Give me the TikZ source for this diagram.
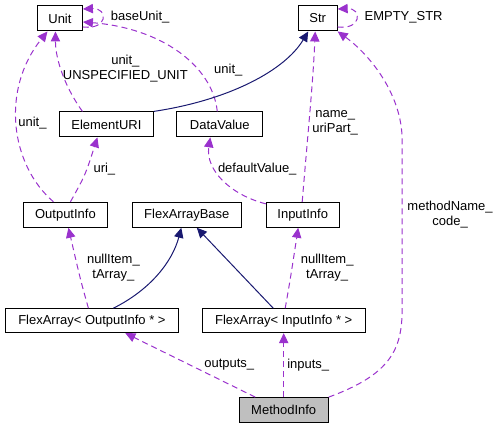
\documentclass[tikz,border=0pt]{standalone}
\usepackage{fontspec}
\setmainfont{Liberation Sans}
\usetikzlibrary{arrows.meta,calc}

\definecolor{usepurple}{RGB}{154,50,205}
\definecolor{basenavy}{RGB}{25,25,112}
\tikzset{every picture/.style={line width=0.75pt}}

\begin{document}
\begin{tikzpicture}[x=0.75pt,y=0.75pt,yscale=-1,xscale=1,
  cls/.style={draw={rgb, 255:red, 0; green, 0; blue, 0 }, fill=white, inner sep=0pt, minimum height=18.75pt, font=\fontsize{9.75}{11.25}\selectfont},
  uses/.style={draw=usepurple, dash pattern={on 4.5pt off 3pt}, -{Triangle[length=7.5pt,width=7pt]}},
  inherits/.style={draw=basenavy, -{Triangle[length=7.5pt,width=7pt]}},
  lbl/.style={align=center, inner sep=0pt, font=\fontsize{9.75}{11.25}\selectfont}]
%set diagram size
\path (0,0) rectangle (500,429);

%Shape: Rectangle
\node [cls, minimum width=33.75pt] (Unit) at (59.5,18.5) {Unit};
%Shape: Rectangle
\node [cls, minimum width=29.25pt] (Str) at (317.5,18.5) {Str};
%Shape: Rectangle
\node [cls, minimum width=70.5pt] (ElementURI) at (106,124.5) {ElementURI};
%Shape: Rectangle
\node [cls, minimum width=64.5pt] (DataValue) at (219.5,124.5) {DataValue};
%Shape: Rectangle
\node [cls, minimum width=63pt] (OutputInfo) at (65,215) {OutputInfo};
%Shape: Rectangle
\node [cls, minimum width=81.75pt] (FlexArrayBase) at (186.5,215) {FlexArrayBase};
%Shape: Rectangle
\node [cls, minimum width=54.75pt] (InputInfo) at (302.5,215) {InputInfo};
%Shape: Rectangle
\node [cls, minimum width=129.75pt, minimum height=18pt] (FlexArrayOut) at (91.5,321) {FlexArray< OutputInfo * >};
%Shape: Rectangle
\node [cls, minimum width=122.25pt, minimum height=18pt] (FlexArrayIn) at (283.5,321) {FlexArray< InputInfo * >};
%Shape: Rectangle
\node [cls, fill={rgb, 255:red, 191; green, 191; blue, 191 }, minimum width=66.75pt] (MethodInfo) at (283.5,410.5) {MethodInfo};

%Curve Lines
\draw [uses] ($(Unit.east)+(0,8.5)$) .. controls (108,30) and (108,8) .. ($(Unit.east)+(0,-9.5)$);
\draw [uses] ($(DataValue.north)+(-2.5,0)$) .. controls (212,65) and (160,28) .. ($(Unit.east)+(0,3.5)$);
\draw [uses] ($(ElementURI.north)+(-24,0)$) .. controls (65,88) and (55,60) .. ($(Unit.south)+(-4.5,0)$);
\draw [uses] ($(OutputInfo.north)+(-12,0)$) .. controls (10,165) and (0,90) .. ($(Unit.south)+(-12.5,0)$);
\draw [inherits] (ElementURI.north east) .. controls (230,100) and (285,70) .. ($(Str.south)+(-9.5,0)$);
\draw [uses] ($(Str.east)+(0,8.5)$) .. controls (362,30) and (362,8) .. ($(Str.east)+(0,-9.5)$);
\draw [uses] ($(InputInfo.north)+(-0.5,0)$) .. controls (308,130) and (313,80) .. ($(Str.south)+(-2.5,0)$);
\draw [uses] (MethodInfo.north east) .. controls (390,375) and (402,350) .. (402,310) -- (402,140) .. controls (402,95) and (370,55) .. (Str.south east);
\draw [uses] ($(OutputInfo.north)+(5,0)$) .. controls (85,175) .. ($(ElementURI.south)+(-9,0)$);
\draw [uses] ($(InputInfo.west)+(0,-11)$) .. controls (230,195) and (205,170) .. ($(DataValue.south)+(-9.5,0)$);
\draw [inherits] ($(FlexArrayOut.north)+(21.5,0)$) .. controls (150,290) and (172,262) .. ($(FlexArrayBase.south)+(-5.5,0)$);
%Straight Lines
\draw [inherits] ($(FlexArrayIn.north)+(-10.5,0)$) -- ($(FlexArrayBase.south)+(10,0)$);
\draw [uses] ($(FlexArrayOut.north)+(-3.5,0)$) .. controls (80,280) .. ($(OutputInfo.south)+(3,0)$);
\draw [uses] ($(FlexArrayIn.north)+(1.5,0)$) .. controls (290,280) .. ($(InputInfo.south)+(-4.5,0)$);
\draw [uses] ($(MethodInfo.north)+(-28.5,0)$) -- ($(FlexArrayOut.south)+(33.5,0)$);
\draw [uses] (MethodInfo.north) -- (FlexArrayIn.south);

% Text Node
\node [lbl, anchor=west] (lbaseunit) at (110,17) {baseUnit\_};
\node [lbl, anchor=west] (lemptystr) at (364,17) {EMPTY\_STR};
\node [lbl] (lunitspec) at (125,69) {unit\_\\UNSPECIFIED\_UNIT};
\node [lbl] (lunitout) at (32,123) {unit\_};
\node [lbl] (lunitdata) at (228,70) {unit\_};
\node [lbl] (luri) at (104,169) {uri\_};
\node [lbl] (ldefault) at (257,169) {defaultValue\_};
\node [lbl] (lname) at (335,123) {name\_\\uriPart\_};
\node [lbl] (lmethod) at (450,215) {methodName\_\\code\_};
\node [lbl] (lnullout) at (113,268) {nullItem\_\\tArray\_};
\node [lbl] (lnullin) at (327,268) {nullItem\_\\tArray\_};
\node [lbl] (loutputs) at (229,365) {outputs\_};
\node [lbl] (linputs) at (308,365) {inputs\_};

\end{tikzpicture}
\end{document}
